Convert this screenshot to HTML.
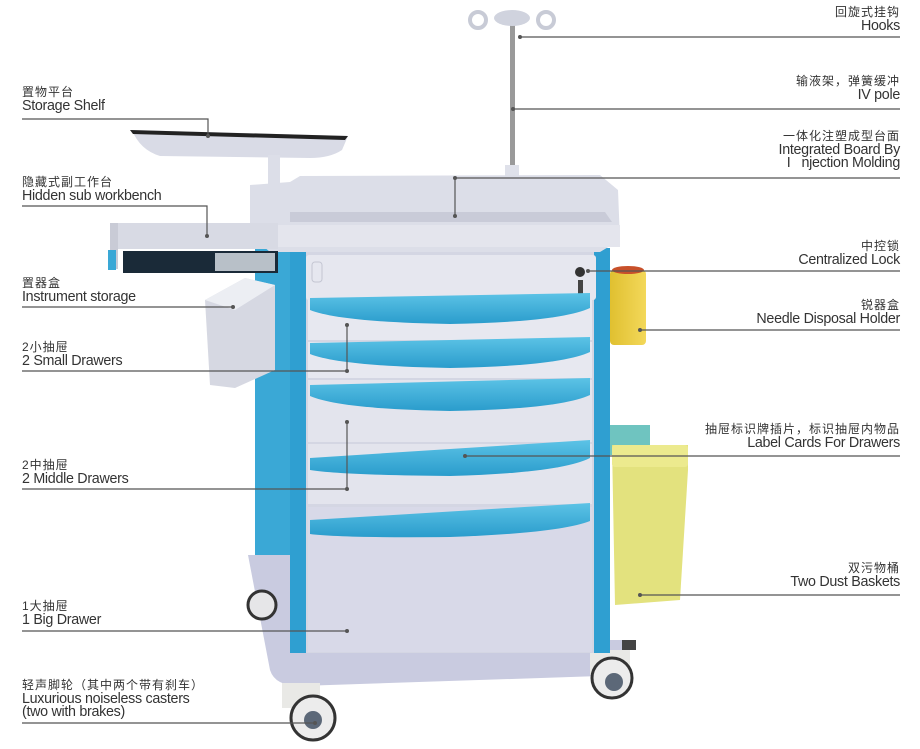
<!DOCTYPE html>
<html><head><meta charset="utf-8"><style>
html,body{margin:0;padding:0;background:#fff;width:920px;height:749px;overflow:hidden;position:relative}
.t{position:absolute;font-family:"Liberation Sans","Noto Sans CJK SC",sans-serif;color:#333;line-height:13.5px;white-space:nowrap}
.t .c{font-size:12px;letter-spacing:1px}
.t .e{font-size:14.3px;letter-spacing:-0.3px}
.l{left:22px}
.r{right:20px;text-align:right}
svg{position:absolute;left:0;top:0}
</style></head><body>
<svg width="920" height="749" viewBox="0 0 920 749">
<defs>
<linearGradient id="gb" x1="0" x2="0" y1="0" y2="1"><stop offset="0" stop-color="#5cc3e6"/><stop offset="1" stop-color="#2a9ccc"/></linearGradient>
<linearGradient id="yl" x1="0" x2="1"><stop offset="0" stop-color="#e0c030"/><stop offset="1" stop-color="#f3d85a"/></linearGradient>
</defs>
<rect x="510" y="25" width="5" height="150" fill="#9a9a9a"/>
<circle cx="478" cy="20" r="8" fill="none" stroke="#c8cbd6" stroke-width="4"/>
<circle cx="546" cy="20" r="8" fill="none" stroke="#c8cbd6" stroke-width="4"/>
<ellipse cx="512" cy="18" rx="18" ry="8" fill="#d0d3de"/>
<rect x="505" y="165" width="14" height="30" fill="#dfe1ea"/>
<path d="M132 130 L348 136 L342 150 Q330 158 310 158 L160 156 Q140 150 132 130 Z" fill="#d9dbe6"/>
<path d="M130 130 L348 136 L345 140 L133 134 Z" fill="#222"/>
<rect x="268" y="155" width="12" height="36" fill="#dcdee8"/>
<rect x="255" y="240" width="40" height="320" fill="#3aa8d6"/>
<path d="M248 555 L290 555 L290 640 L625 640 L625 665 Q620 675 600 676 L300 686 Q275 686 270 670 Z" fill="#c9cbe0"/>
<circle cx="262" cy="605" r="14" fill="#e6e6e8" stroke="#333" stroke-width="3"/>
<rect x="282" y="683" width="38" height="25" fill="#e9e9e6"/>
<circle cx="313" cy="718" r="22" fill="#ececec" stroke="#333" stroke-width="3"/>
<circle cx="313" cy="720" r="9" fill="#5c6878"/>
<rect x="590" y="650" width="40" height="25" fill="#e9e9e6"/>
<circle cx="612" cy="678" r="20" fill="#ececec" stroke="#333" stroke-width="3"/>
<circle cx="614" cy="682" r="9" fill="#5c6878"/>
<rect x="622" y="640" width="14" height="10" fill="#444"/>
<rect x="290" y="248" width="320" height="405" fill="#d4d6e3"/>
<rect x="290" y="248" width="16" height="405" fill="#2f9fd1"/>
<rect x="594" y="248" width="16" height="405" fill="#2f9fd1"/>
<rect x="306" y="255" width="290" height="45" rx="3" fill="#e6e7ef"/>
<rect x="312" y="262" width="10" height="20" rx="3" fill="none" stroke="#c4c6d2"/>
<circle cx="580" cy="272" r="5" fill="#333"/>
<rect x="578" y="280" width="5" height="16" fill="#444"/>
<rect x="308" y="300" width="284" height="40" fill="#e7e8f0"/>
<rect x="308" y="342" width="284" height="36" fill="#e7e8f0"/>
<rect x="308" y="380" width="284" height="62" fill="#e3e4ed"/>
<rect x="308" y="444" width="284" height="60" fill="#e3e4ed"/>
<rect x="308" y="507" width="284" height="145" fill="#d8d9e8"/>
<path d="M310 298 L590 293 L590 308 Q560 322 450 324 Q340 322 310 310 Z" fill="url(#gb)"/>
<path d="M310 343 L590 337 L590 352 Q560 366 450 368 Q340 366 310 354 Z" fill="url(#gb)"/>
<path d="M310 385 L590 378 L590 395 Q560 409 450 411 Q340 409 310 396 Z" fill="url(#gb)"/>
<path d="M310 458 L590 440 L590 458 Q560 473 450 476 Q340 475 310 470 Z" fill="url(#gb)"/>
<path d="M310 520 L590 503 L590 521 Q560 533 450 537 Q340 538 310 534 Z" fill="url(#gb)"/>
<path d="M250 185 L290 182 L300 176 L600 175 L618 190 L620 240 L600 252 L270 252 L250 235 Z" fill="#dcdee8"/>
<path d="M290 212 L605 212 L612 222 L290 222 Z" fill="#c9cbd8"/>
<rect x="250" y="225" width="370" height="22" fill="#e4e5ed"/>
<rect x="110" y="223" width="168" height="26" fill="#d8dae4"/>
<rect x="110" y="223" width="8" height="46" fill="#c9cbd6"/>
<rect x="123" y="251" width="155" height="22" fill="#1a2a38"/>
<rect x="215" y="253" width="60" height="18" fill="#b8c0c8"/>
<rect x="108" y="250" width="8" height="20" fill="#3aa8d6"/>
<path d="M205 300 L245 278 L275 285 L275 370 L235 388 L210 385 Z" fill="#d6d8e2"/>
<path d="M205 300 L245 278 L275 285 L235 310 Z" fill="#eceef3"/>
<rect x="610" y="270" width="36" height="75" rx="4" fill="url(#yl)"/>
<ellipse cx="628" cy="270" rx="16" ry="4" fill="#c8502a"/>
<rect x="610" y="425" width="40" height="30" fill="#6fc4c0"/>
<path d="M612 445 L688 445 L688 470 L680 600 L615 605 Z" fill="#e3e27e"/>
<rect x="612" y="445" width="76" height="22" rx="3" fill="#ecea8e"/>
<g stroke="#555" stroke-width="1.2" fill="none">
<path d="M22 119 H208 V136"/>
<path d="M22 206 H207 V236"/>
<path d="M22 307 H233"/>
<path d="M22 371 H347 V325"/>
<path d="M22 489 H347 V422"/>
<path d="M22 631 H347"/>
<path d="M22 723 H315"/>
<path d="M520 37 H900"/>
<path d="M513 109 H900"/>
<path d="M455 216 V178 H900"/>
<path d="M588 271 H900"/>
<path d="M640 330 H900"/>
<path d="M465 456 H900"/>
<path d="M640 595 H900"/>
</g>
<g fill="#555">
<circle cx="208" cy="136" r="2"/><circle cx="207" cy="236" r="2"/><circle cx="233" cy="307" r="2"/>
<circle cx="347" cy="325" r="2"/><circle cx="347" cy="371" r="2"/><circle cx="347" cy="422" r="2"/><circle cx="347" cy="489" r="2"/>
<circle cx="347" cy="631" r="2"/><circle cx="315" cy="723" r="2"/><circle cx="520" cy="37" r="2"/><circle cx="513" cy="109" r="2"/>
<circle cx="455" cy="178" r="2"/><circle cx="455" cy="216" r="2"/><circle cx="588" cy="271" r="2"/><circle cx="640" cy="330" r="2"/>
<circle cx="465" cy="456" r="2"/><circle cx="640" cy="595" r="2"/>
</g>
</svg>

<div class="t l" style="top:86px"><div class="c">置物平台</div><div class="e">Storage Shelf</div></div>
<div class="t l" style="top:176px"><div class="c">隐藏式副工作台</div><div class="e">Hidden sub workbench</div></div>
<div class="t l" style="top:277px"><div class="c">置器盒</div><div class="e">Instrument storage</div></div>
<div class="t l" style="top:341px"><div class="c">2小抽屉</div><div class="e">2 Small Drawers</div></div>
<div class="t l" style="top:459px"><div class="c">2中抽屉</div><div class="e">2 Middle Drawers</div></div>
<div class="t l" style="top:600px"><div class="c">1大抽屉</div><div class="e">1 Big Drawer</div></div>
<div class="t l" style="top:679px"><div class="c">轻声脚轮（其中两个带有刹车）</div><div class="e">Luxurious noiseless casters</div><div class="e">(two with brakes)</div></div>

<div class="t r" style="top:6px"><div class="c">回旋式挂钩</div><div class="e">Hooks</div></div>
<div class="t r" style="top:75px"><div class="c">输液架，弹簧缓冲</div><div class="e">IV pole</div></div>
<div class="t r" style="top:130px"><div class="c">一体化注塑成型台面</div><div class="e">Integrated Board By</div><div class="e">I&nbsp;&nbsp;&nbsp;njection Molding</div></div>
<div class="t r" style="top:240px"><div class="c">中控锁</div><div class="e">Centralized Lock</div></div>
<div class="t r" style="top:299px"><div class="c">锐器盒</div><div class="e">Needle Disposal Holder</div></div>
<div class="t r" style="top:423px"><div class="c">抽屉标识牌插片，标识抽屉内物品</div><div class="e">Label Cards For Drawers</div></div>
<div class="t r" style="top:562px"><div class="c">双污物桶</div><div class="e">Two Dust Baskets</div></div>
</body></html>
